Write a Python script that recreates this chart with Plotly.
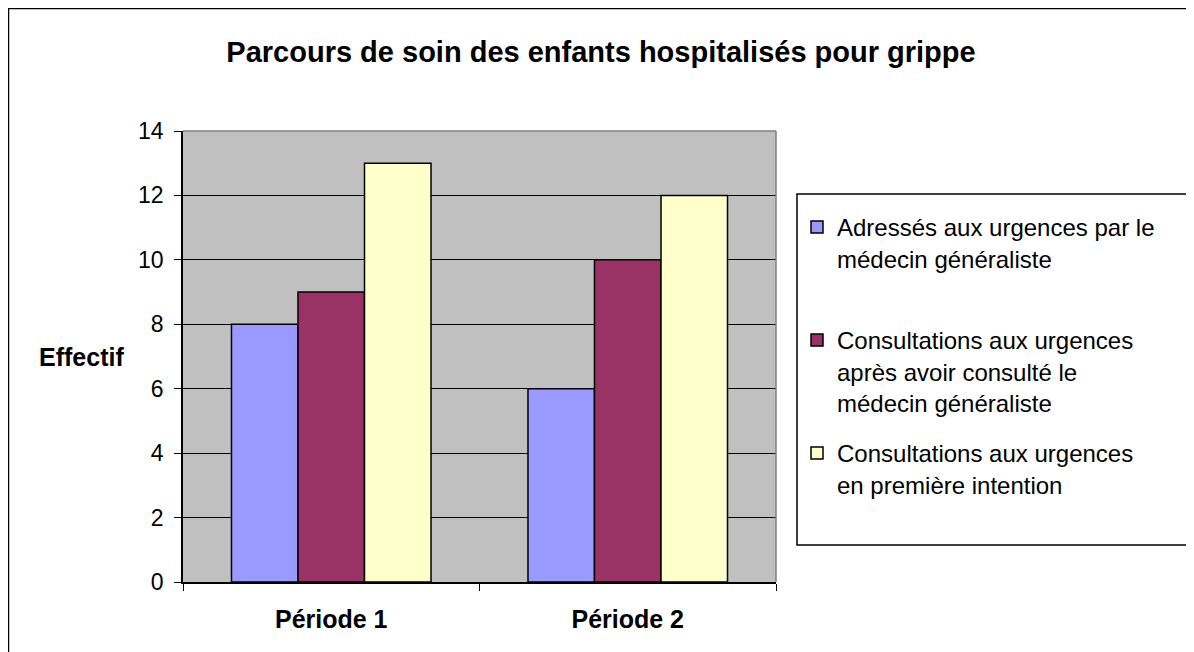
import plotly.graph_objects as go

# Data
periods = ["Période 1", "Période 2"]
series_names = [
    "Adressés aux urgences par le<br>médecin généraliste",
    "Consultations aux urgences<br>après avoir consulté le<br>médecin généraliste",
    "Consultations aux urgences<br>en première intention",
]
adresses = [8, 6]
apres_medecin = [9, 10]
premiere_intention = [13, 12]

colors = ["#9999FF", "#993366", "#FFFFCC"]
values = [adresses, apres_medecin, premiere_intention]
legend_ids = ["legend", "legend2", "legend3"]

FONT = "Arial, Liberation Sans, sans-serif"

# page body has an 8px margin, so the figure starts at (8, 8) in the window
OFF = 8
W, H = 1194, 652
# plot area in window pixels
L, R, T, B = 183, 776, 131, 582
def px(x):
    return (x - L) / (R - L)
def py(y):
    return (B - y) / (B - T)

fig = go.Figure()
for name, vals, col, lg in zip(series_names, values, colors, legend_ids):
    fig.add_trace(go.Bar(
        x=periods, y=vals, name=name,
        marker=dict(color=col, line=dict(color="black", width=1.5)),
        legend=lg, showlegend=True,
    ))

legend_tops = [205, 318, 431]
legend_common = dict(
    xanchor="left", yanchor="top", x=px(797),
    bgcolor="rgba(0,0,0,0)", borderwidth=0,
    font=dict(family=FONT, size=24, color="black"),
    valign="top",
)
fig.update_layout(
    showlegend=True,
    legend=dict(y=py(legend_tops[0]), visible=True, **legend_common),
    legend2=dict(y=py(legend_tops[1]), **legend_common),
    legend3=dict(y=py(legend_tops[2]), **legend_common),
)

fig.update_layout(
    width=W - OFF, height=H - OFF,
    margin=dict(l=L - OFF, r=W - R, t=T - OFF, b=H - B, pad=0),
    paper_bgcolor="white",
    plot_bgcolor="#C0C0C0",
    bargap=0.327, bargroupgap=0,
    font=dict(family=FONT, color="black"),
    title=dict(
        text="<b>Parcours de soin des enfants hospitalisés pour grippe</b>",
        font=dict(family=FONT, size=29, color="black"),
        x=(601 - OFF) / (W - OFF), xref="container", xanchor="center",
        y=1 - (52 - OFF) / (H - OFF), yref="container", yanchor="middle",
    ),
    xaxis=dict(
        tickson="boundaries", ticks="outside", ticklen=7, tickcolor="black",
        showline=True, linecolor="black", linewidth=1.5,
        tickfont=dict(family=FONT, size=25, color="black", weight="bold"),
        ticklabelstandoff=14,
        showgrid=False,
    ),
    yaxis=dict(
        range=[0, 14], dtick=2, ticks="outside", ticklen=7, tickcolor="black",
        showline=True, linecolor="black", linewidth=1.5,
        showgrid=True, gridcolor="black", gridwidth=1,
        zeroline=False,
        tickfont=dict(family=FONT, size=23, color="black"),
        ticklabelstandoff=6,
    ),
    annotations=[dict(
        text="<b>Effectif</b>", x=px(81), y=py(357), xref="paper", yref="paper",
        xanchor="center", yanchor="middle",
        showarrow=False, font=dict(family=FONT, size=25, color="black"),
    )],
    shapes=[
        # plot area gray border (top, right)
        dict(type="line", xref="paper", yref="paper", x0=0, x1=1, y0=1, y1=1,
             line=dict(color="#808080", width=1.5)),
        dict(type="line", xref="paper", yref="paper", x0=1, x1=1, y0=0, y1=1,
             line=dict(color="#808080", width=1.5)),
        # legend box
        dict(type="rect", xref="paper", yref="paper",
             x0=px(797), x1=px(1190), y0=py(545), y1=py(194),
             line=dict(color="black", width=1.5), fillcolor="rgba(0,0,0,0)"),
        # outer chart border (top, left)
        dict(type="line", xref="paper", yref="paper",
             x0=px(8), x1=px(1210), y0=py(8), y1=py(8),
             line=dict(color="black", width=2.5)),
        dict(type="line", xref="paper", yref="paper",
             x0=px(8), x1=px(8), y0=py(8), y1=py(670),
             line=dict(color="black", width=2.5)),
    ],
)

fig.write_html("out.html")
